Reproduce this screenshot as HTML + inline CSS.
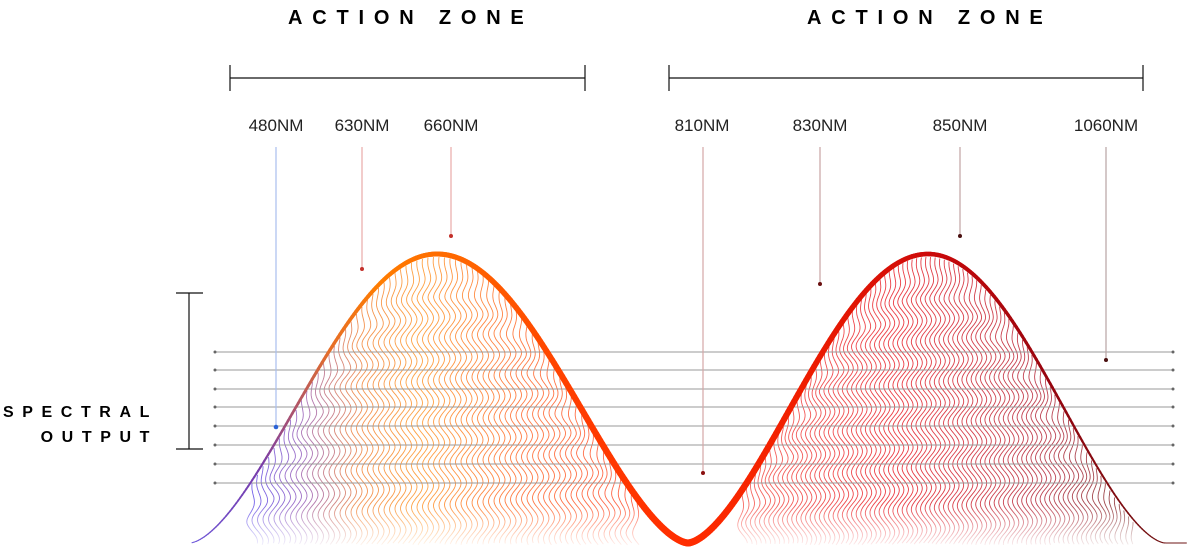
<!DOCTYPE html>
<html><head><meta charset="utf-8"><style>
body{margin:0;background:#fff;width:1190px;height:558px;overflow:hidden}
svg{display:block}
text{font-family:"Liberation Sans",sans-serif}
</style></head><body>
<svg id="s" width="1190" height="558" viewBox="0 0 1190 558" xmlns="http://www.w3.org/2000/svg">
<defs>
<linearGradient id="fade" x1="0" y1="0" x2="0" y2="1" gradientUnits="objectBoundingBox">
<stop offset="0" stop-color="#fff" stop-opacity="0"/><stop offset="1" stop-color="#fff" stop-opacity="1"/></linearGradient>
</defs>
<g id="waves"></g>
<rect x="180" y="505" width="1000" height="45" fill="url(#fade)"/>
<g id="hl" stroke="#999" stroke-width="1"></g>
<g id="main"></g>
<g font-size="17" fill="#222" text-anchor="middle">
<text x="276" y="131">480NM</text><text x="362" y="131">630NM</text><text x="451" y="131">660NM</text>
<text x="702" y="131">810NM</text><text x="820" y="131">830NM</text><text x="960" y="131">850NM</text><text x="1106" y="131">1060NM</text>
</g>
<g font-size="20" font-weight="bold" fill="#000" letter-spacing="9.8">
<text x="288" y="24">ACTION ZONE</text><text x="807" y="24">ACTION ZONE</text>
</g>
<g font-size="16" font-weight="bold" fill="#000" letter-spacing="8.6" text-anchor="end">
<text x="158" y="417">SPECTRAL</text><text x="158" y="442">OUTPUT</text>
</g>
<g stroke="#111" stroke-width="1.2">
<line x1="230" y1="78" x2="585" y2="78"/><line x1="230" y1="65" x2="230" y2="91"/><line x1="585" y1="65" x2="585" y2="91"/>
<line x1="669" y1="78" x2="1143" y2="78"/><line x1="669" y1="65" x2="669" y2="91"/><line x1="1143" y1="65" x2="1143" y2="91"/>
<line x1="189" y1="293" x2="189" y2="449"/><line x1="176" y1="293" x2="203" y2="293"/><line x1="176" y1="449" x2="203" y2="449"/>
</g>
<g stroke-width="1.2">
<line x1="276" y1="147" x2="276" y2="427" stroke="#a9bfee"/><circle cx="276" cy="427" r="2.3" fill="#2b63d6"/>
<line x1="362" y1="147" x2="362" y2="269" stroke="#e8aaa8"/><circle cx="362" cy="269" r="2" fill="#c3302a"/>
<line x1="451" y1="147" x2="451" y2="236" stroke="#e8aaa8"/><circle cx="451" cy="236" r="2" fill="#c3302a"/>
<line x1="703" y1="147" x2="703" y2="473" stroke="#d4a7a7"/><circle cx="703" cy="473" r="2" fill="#8a1010"/>
<line x1="820" y1="147" x2="820" y2="284" stroke="#c9a3a3"/><circle cx="820" cy="284" r="2" fill="#6a1010"/>
<line x1="960" y1="147" x2="960" y2="236" stroke="#c0a3a3"/><circle cx="960" cy="236" r="2" fill="#4a1010"/>
<line x1="1106" y1="147" x2="1106" y2="360" stroke="#b8a3a3"/><circle cx="1106" cy="360" r="2" fill="#4a1010"/>
</g>
</svg>
<script>
var NS="http://www.w3.org/2000/svg";
function bump(t){var s=Math.sin(t*Math.PI/2);return Math.pow(s*s,0.8);}
function curve(x){
 if(x<190)return 543;
 if(x<=437){return 543-289*bump((x-190)/247);}
 if(x<=688){return 543-289*bump((688-x)/251);}
 if(x<=928){return 543-289*bump((x-688)/240);}
 if(x<=1165){return 543-289*bump((1165-x)/237);}
 return 543;}
function lerp(a,b,t){return a+(b-a)*t}
function mix(c1,c2,t){return [0,1,2].map(i=>Math.round(lerp(c1[i],c2[i],t)));}
function col(x){
 var stops=[[190,[110,90,220]],[260,[120,60,170]],[330,[230,110,40]],[380,[255,125,0]],[470,[255,100,0]],[580,[255,60,0]],[690,[255,45,0]],[800,[240,30,0]],[930,[205,10,10]],[1050,[150,5,15]],[1170,[110,20,20]]];
 for(var i=0;i<stops.length-1;i++){if(x<=stops[i+1][0]){var t=(x-stops[i][0])/(stops[i+1][0]-stops[i][0]);return mix(stops[i][1],stops[i+1][1],Math.max(0,t));}}
 return stops[stops.length-1][1];}
function rgb(c){return "rgb("+c.join(",")+")"}
function wcol(x){
 var stops=[[250,[80,60,230]],[300,[140,80,180]],[360,[240,120,40]],[420,[255,140,20]],[520,[255,90,20]],[640,[255,60,30]],[740,[245,70,60]],[900,[230,10,20]],[1050,[170,20,40]],[1130,[120,30,30]]];
 for(var i=0;i<stops.length-1;i++){if(x<=stops[i+1][0]){var t=(x-stops[i][0])/(stops[i+1][0]-stops[i][0]);return mix(stops[i][1],stops[i+1][1],Math.max(0,t));}}
 return stops[stops.length-1][1];}
var w=document.getElementById("waves");
function wave(x0,x1,step,op){
 for(var x=x0;x<=x1;x+=step){
  var top=curve(x)+3,d="";
  for(var y=top;y<=545;y+=2){
   var amp=Math.min(1,(y-top)/40)*5.5;
   var xx=x+amp*Math.sin((y-300)*0.15+x*0.012);
   d+=(d?"L":"M")+xx.toFixed(1)+" "+y.toFixed(1);}
  var p=document.createElementNS(NS,"path");p.setAttribute("d",d);p.setAttribute("fill","none");
  p.setAttribute("stroke",rgb(wcol(x)));p.setAttribute("stroke-width","0.9");p.setAttribute("opacity",op);w.appendChild(p);}}
wave(252,640,5.5,0.8);wave(742,1135,4.6,0.8);
var hl=document.getElementById("hl");
[352,370,389,407,426,445,464,483].forEach(function(y){
 var l=document.createElementNS(NS,"line");l.setAttribute("x1",215);l.setAttribute("x2",1173);l.setAttribute("y1",y);l.setAttribute("y2",y);hl.appendChild(l);
 [215,1173].forEach(function(cx){var c=document.createElementNS(NS,"circle");c.setAttribute("cx",cx);c.setAttribute("cy",y);c.setAttribute("r",1.5);c.setAttribute("fill","#666");c.setAttribute("stroke","none");hl.appendChild(c);});});
var m=document.getElementById("main");
function sw(x){
 if(x<437)return lerp(1,5,Math.max(0,(x-190)/247));
 if(x<690)return lerp(5,7,(x-437)/253);
 if(x<930)return lerp(7,4.5,(x-690)/240);
 return lerp(4.5,1,Math.min(1,(x-930)/235));}
for(var x=192;x<1185;x+=2){
 var l=document.createElementNS(NS,"line");l.setAttribute("x1",x);l.setAttribute("y1",curve(x));l.setAttribute("x2",x+2.4);l.setAttribute("y2",curve(x+2.4));
 l.setAttribute("stroke",rgb(col(x)));l.setAttribute("stroke-width",sw(x).toFixed(2));l.setAttribute("stroke-linecap","round");m.appendChild(l);}
</script>
</body></html>
